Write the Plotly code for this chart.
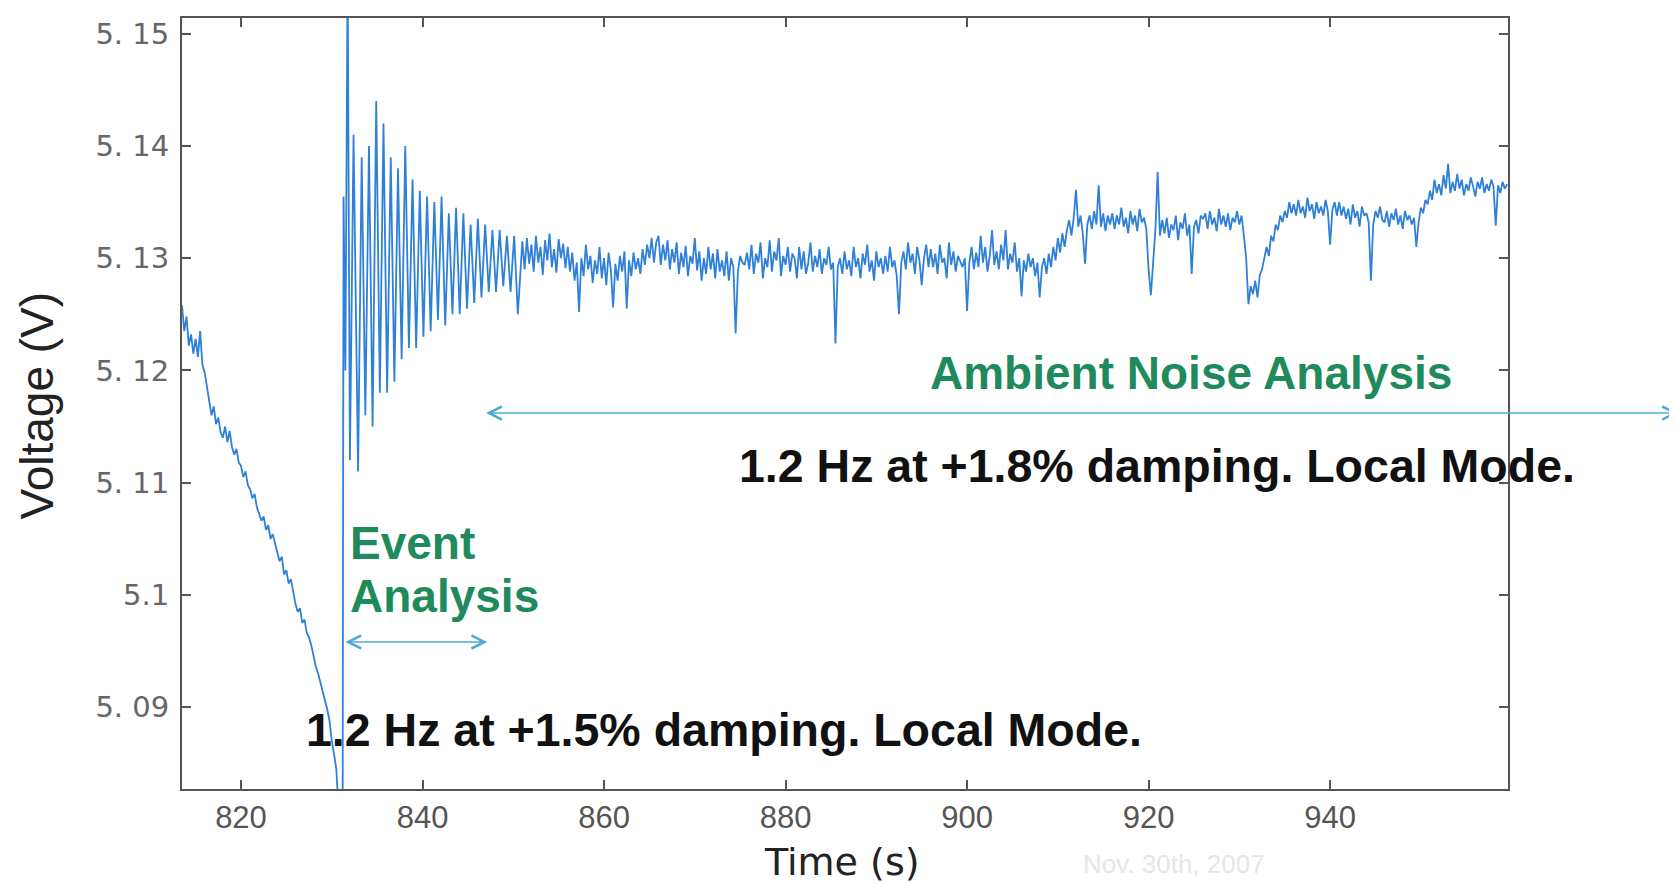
import plotly.graph_objects as go

# ---------------- data ----------------
# pre-event drift, one reading every 0.25 s from 813.5 s (volts)
pre_start, pre_step = 813.5, 0.25
pre_voltage = [
    5.1258, 5.1235, 5.1248, 5.1222, 5.1232, 5.1215, 5.1228, 5.1212, 5.1235, 5.1205,
    5.1198, 5.1185, 5.1172, 5.1160, 5.1168, 5.1152, 5.1158, 5.1145,
    5.1140, 5.1150, 5.1136, 5.1146, 5.1132, 5.1125, 5.1130, 5.1118,
    5.1115, 5.1105, 5.1110, 5.1098, 5.1094, 5.1086, 5.1090, 5.1078,
    5.1072, 5.1066, 5.1070, 5.1058, 5.1062, 5.1050, 5.1054, 5.1045,
    5.1038, 5.1030, 5.1034, 5.1018, 5.1022, 5.1010, 5.1014, 5.1002,
    5.0992, 5.0985, 5.0988, 5.0975, 5.0978, 5.0966, 5.0962, 5.0955,
    5.0945, 5.0936, 5.0930, 5.0922, 5.0915, 5.0906, 5.0898, 5.0888,
    5.0870, 5.0858, 5.0845,
]

# event ring-down (1.2 Hz oscillation): peaks and troughs (s, volts)
event_time = [
    830.8, 831.2, 831.3, 831.5, 831.75, 832.0, 832.4, 832.9, 833.3, 833.7,
    834.1, 834.5, 834.9, 835.3, 835.7, 836.1, 836.5, 836.9, 837.3, 837.7,
    838.1, 838.5, 838.9, 839.3, 839.7, 840.1, 840.5, 840.9, 841.3, 841.7,
    842.1, 842.5, 842.9, 843.3, 843.7, 844.1, 844.5, 844.9, 845.3, 845.7,
    846.1, 846.5, 846.9, 847.3, 847.7, 848.1, 848.5, 848.9, 849.3, 849.7,
    850.1, 850.5,
]
event_voltage = [
    5.0800, 5.0790, 5.1355, 5.1200, 5.1560, 5.1120, 5.1410, 5.1110, 5.1390, 5.1160,
    5.1400, 5.1150, 5.1440, 5.1180, 5.1420, 5.1180, 5.1390, 5.1190, 5.1380, 5.1210,
    5.1400, 5.1220, 5.1370, 5.1220, 5.1360, 5.1230, 5.1355, 5.1235, 5.1350, 5.1245,
    5.1355, 5.1240, 5.1340, 5.1250, 5.1345, 5.1250, 5.1340, 5.1255, 5.1330, 5.1260,
    5.1335, 5.1265, 5.1330, 5.1270, 5.1325, 5.1270, 5.1325, 5.1275, 5.1320, 5.1270,
    5.1320, 5.1250,
]

# ambient noise, one reading every 0.25 s from 851.0 s,
# given in units of 0.1 mV above 5.1 V (e.g. 300 -> 5.1300 V)
amb_start, amb_step = 851.0, 0.25
amb_offset = [
    315, 290, 318, 295, 312, 288, 320, 296, 310, 285, 316, 298, 322, 292, 308, 287, 317, 300, 313, 291,
    310, 288, 305, 280, 296, 252, 300, 284, 312, 290, 302, 278, 298, 286, 310, 282, 300, 276, 305, 290,
    256, 295, 280, 302, 288, 306, 255, 298, 284, 305, 290, 300, 286, 308, 294, 312, 300, 318, 296, 314,
    320, 294, 312, 298, 316, 290, 308, 296, 314, 286, 305, 292, 311, 284, 302, 295, 318, 289, 306, 280,
    300, 286, 310, 290, 304, 282, 308, 288, 298, 284, 306, 280, 300, 292, 233, 288, 302, 296, 294, 305,
    290, 312, 286, 304, 296, 314, 282, 300, 292, 316, 288, 306, 298, 318, 284, 302, 294, 310, 288, 304,
    300, 282, 310, 290, 306, 286, 296, 314, 288, 302, 292, 308, 286, 300, 294, 310, 290, 296, 224, 292,
    300, 286, 306, 290, 298, 284, 310, 292, 300, 282, 304, 294, 312, 288, 298, 280, 306, 292, 300, 286,
    302, 288, 310, 292, 298, 284, 250, 296, 306, 290, 314, 296, 304, 286, 310, 298, 276, 300, 312, 292,
    308, 292, 304, 286, 312, 296, 300, 282, 314, 294, 306, 288, 302, 296, 292, 300, 253, 296, 310, 290,
    305, 292, 320, 296, 310, 288, 302, 325, 294, 306, 290, 312, 298, 325, 290, 304, 296, 314, 288, 300,
    266, 298, 288, 304, 292, 300, 284, 296, 265, 292, 300, 286, 304, 292, 310, 298, 318, 305, 322, 310,
    325, 334, 320, 336, 361, 328, 338, 322, 295, 330, 338, 326, 342, 330, 365, 328, 340, 324, 338, 330,
    340, 326, 338, 330, 345, 328, 336, 322, 342, 330, 338, 324, 344, 332, 336, 326, 290, 267, 300, 325,
    377, 320, 334, 322, 336, 318, 330, 325, 338, 316, 332, 326, 340, 320, 330, 286, 328, 334, 322, 338,
    335, 340, 326, 342, 330, 336, 324, 344, 330, 338, 328, 340, 325, 336, 332, 342, 330, 338, 320, 300,
    259, 275, 268, 280, 265, 285, 290, 300, 310, 302, 320, 315, 330, 325, 338, 332, 342, 336, 350, 340,
    348, 338, 352, 340, 346, 336, 354, 342, 348, 335, 350, 340, 346, 338, 352, 342, 312, 343, 350, 338,
    350, 338, 346, 335, 344, 330, 348, 336, 342, 328, 346, 338, 340, 332, 280, 330, 342, 336, 346, 334,
    332, 342, 328, 340, 334, 344, 330, 338, 326, 342, 334, 338, 330, 336, 310, 332, 345, 340, 352, 348,
    360, 352, 370, 358, 366, 356, 374, 362, 384, 358, 368, 360, 375, 362, 370, 356, 366, 360, 372, 364,
    355, 368, 362, 372, 358, 366, 360, 370, 364, 329, 365, 358, 368, 362, 366,
]
amb_base, amb_unit = 5.1, 1e-4

x_ticks = [820, 840, 860, 880, 900, 920, 940]
y_ticks = [5.09, 5.10, 5.11, 5.12, 5.13, 5.14, 5.15]
y_tick_text = ["5. 09", "5.1", "5. 11", "5. 12", "5. 13", "5. 14", "5. 15"]
x_range = [813.5, 959.6]
y_range = [5.0827, 5.1514]

# ---------------- assemble series ----------------
pre_time = [pre_start + pre_step * i for i in range(len(pre_voltage))]
amb_time = [amb_start + amb_step * i for i in range(len(amb_offset))]
amb_voltage = [amb_base + v * amb_unit for v in amb_offset]
time = pre_time + event_time + amb_time
voltage = pre_voltage + event_voltage + amb_voltage

GREEN = "#1f8a5c"
ARROW = "#4fa9d6"
TXT_FONT = "Liberation Sans, Arial, sans-serif"

fig = go.Figure()
fig.add_trace(go.Scatter(
    x=time, y=voltage, mode="lines",
    line=dict(color="#2f80d8", width=1.8),
    showlegend=False, hoverinfo="skip",
))

axis_common = dict(
    showline=True, linecolor="#555555", linewidth=2, mirror="ticks",
    ticks="inside", ticklen=9, tickwidth=1.5, tickcolor="#555555",
    showgrid=False, zeroline=False,
)
fig.update_xaxes(
    range=x_range, tickvals=x_ticks,
    tickfont=dict(family=TXT_FONT, size=31, color="#555555"),
    **axis_common,
)
fig.update_yaxes(
    range=y_range, tickvals=y_ticks, ticktext=y_tick_text,
    tickfont=dict(family="DejaVu Sans, sans-serif", size=29, color="#666666"),
    ticklabelstandoff=5,
    **axis_common,
)

annotations = [
    # axis titles
    dict(xref="paper", yref="paper", x=0.4977, y=-0.0945, text="Time (s)",
         showarrow=False, xanchor="center", yanchor="middle",
         font=dict(family="DejaVu Sans, sans-serif", size=38, color="#222222")),
    dict(xref="paper", yref="paper", x=-0.109, y=0.498, text="Voltage (V)",
         textangle=-90, showarrow=False, xanchor="center", yanchor="middle",
         font=dict(family=TXT_FONT, size=46, color="#222222")),
    # green labels
    dict(x=924.7, y=5.1198, text="<b>Ambient Noise Analysis</b>", showarrow=False,
         xanchor="center", yanchor="middle",
         font=dict(family=TXT_FONT, size=46, color=GREEN)),
    dict(x=831.8, y=5.1046, text="<b>Event</b>", showarrow=False,
         xanchor="left", yanchor="middle",
         font=dict(family=TXT_FONT, size=46, color=GREEN)),
    dict(x=831.8, y=5.0999, text="<b>Analysis</b>", showarrow=False,
         xanchor="left", yanchor="middle",
         font=dict(family=TXT_FONT, size=46, color=GREEN)),
    # black mode descriptions
    dict(x=874.6, y=5.1115, text="<b>1.2 Hz at +1.8% damping. Local Mode.</b>",
         showarrow=False, xanchor="left", yanchor="middle",
         font=dict(family=TXT_FONT, size=46.5, color="#111111")),
    dict(x=826.9, y=5.0880, text="<b>1.2 Hz at +1.5% damping. Local Mode.</b>",
         showarrow=False, xanchor="left", yanchor="middle",
         font=dict(family=TXT_FONT, size=46.5, color="#111111")),
    # double-headed arrows
    dict(x=847.0, y=5.1162, ax=978.5, ay=5.1162, axref="x", ayref="y",
         text="", showarrow=True, arrowhead=5, startarrowhead=5,
         arrowside="end+start", arrowsize=1.6, startarrowsize=1.6,
         arrowwidth=1.6, arrowcolor=ARROW),
    dict(x=831.5, y=5.0958, ax=847.3, ay=5.0958, axref="x", ayref="y",
         text="", showarrow=True, arrowhead=5, startarrowhead=5,
         arrowside="end+start", arrowsize=1.6, startarrowsize=1.6,
         arrowwidth=1.6, arrowcolor=ARROW),
    # faint source note at the bottom edge
    dict(xref="paper", yref="paper", x=0.678, y=-0.119, text="Nov. 30th, 2007",
         showarrow=False, xanchor="left", yanchor="bottom",
         font=dict(family=TXT_FONT, size=26, color="#e6e6e6")),
]

fig.update_layout(
    width=1669, height=875,
    margin=dict(l=174, r=169, t=8, b=94, pad=0),
    paper_bgcolor="white", plot_bgcolor="white",
    annotations=annotations,
)

fig.write_html("out.html")
